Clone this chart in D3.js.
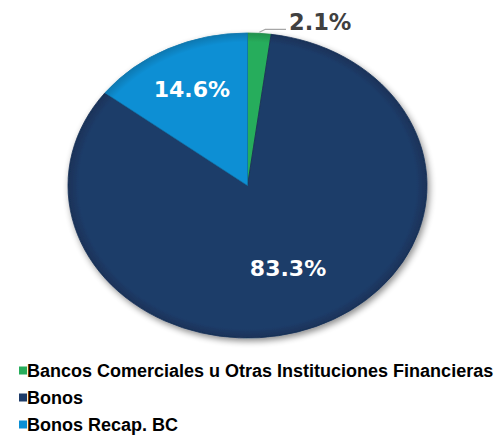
<!DOCTYPE html>
<html>
<head>
<meta charset="utf-8">
<script src="https://cdn.jsdelivr.net/npm/d3@7"></script>
<style>
  html, body { margin: 0; padding: 0; background: #fff; }
  svg { display: block; }
</style>
</head>
<body>
<svg id="chart" width="497" height="435"></svg>
<script>
// Composition of the portfolio (percent)
const categories = [
  "Bancos Comerciales u Otras Instituciones Financieras",
  "Bonos",
  "Bonos Recap. BC"
];
const values = [2.1, 83.3, 14.6];
const colors = ["#27ad5c", "#1e3c69", "#0b8fd4"];

const svg = d3.select("#chart");

// Pie geometry: drawn as a circle, then squashed vertically into an ellipse
const cx = 247.5, cy = 185.5, rx = 179.5, ry = 152.5;

const defs = svg.append("defs");
const shadow = defs.append("filter").attr("id", "shadow")
  .attr("x", "-20%").attr("y", "-20%").attr("width", "140%").attr("height", "140%");
shadow.append("feGaussianBlur").attr("in", "SourceAlpha").attr("stdDeviation", 3.5).attr("result", "b");
shadow.append("feOffset").attr("in", "b").attr("dx", 2).attr("dy", 4).attr("result", "o");
shadow.append("feComponentTransfer").attr("in", "o").attr("result", "s")
  .append("feFuncA").attr("type", "linear").attr("slope", 0.45);
const merge = shadow.append("feMerge");
merge.append("feMergeNode").attr("in", "s");
merge.append("feMergeNode").attr("in", "SourceGraphic");

// Soft bevel along the rim of each slice
colors.forEach((c, i) => {
  const g = defs.append("radialGradient").attr("id", "grad" + i)
    .attr("gradientUnits", "userSpaceOnUse")
    .attr("cx", 0).attr("cy", 0).attr("r", rx);
  g.append("stop").attr("offset", "0%").attr("stop-color", c);
  g.append("stop").attr("offset", "94%").attr("stop-color", c);
  g.append("stop").attr("offset", "100%").attr("stop-color", d3.color(c).darker(0.5));
});

const pie = d3.pie().sort(null).value(d => d)(values);
const arc = d3.arc().innerRadius(0).outerRadius(rx);

const pieG = svg.append("g")
  .attr("transform", `translate(${cx},${cy}) scale(1,${ry / rx})`);

pieG.append("g").attr("filter", "url(#shadow)")
  .selectAll("path").data(pie).join("path")
  .attr("d", arc)
  .attr("fill", (d, i) => `url(#grad${i})`)
  .attr("stroke", (d, i) => d3.color(colors[i]).darker(0.6))
  .attr("stroke-width", 0.8)
  .attr("vector-effect", "non-scaling-stroke");

// Map a point on the circle to the ellipse
const toXY = (angle, r) => [cx + r * Math.sin(angle), cy - r * (ry / rx) * Math.cos(angle)];

// Outside label for the small slice, with a leader line
const small = pie[0];
const mid = (small.startAngle + small.endAngle) / 2;
const p0 = toXY(mid, rx);
svg.append("polyline")
  .attr("points", [[p0[0], p0[1] - 1], [p0[0] + 6, p0[1] - 4], [286, p0[1] - 4]].map(p => p.join(",")).join(" "))
  .attr("fill", "none").attr("stroke", "#a6a6a6").attr("stroke-width", 1.2);
svg.append("text")
  .attr("x", 289).attr("y", 30)
  .attr("font-family", "'DejaVu Sans', Verdana, sans-serif")
  .attr("font-weight", "bold").attr("font-size", 22.5)
  .attr("fill", "#404040")
  .text(values[0].toFixed(1) + "%");

// Inside labels
const inside = [
  { i: 1, r: 0.59 },
  { i: 2, r: 0.70 }
];
inside.forEach(o => {
  const d = pie[o.i];
  const a = (d.startAngle + d.endAngle) / 2;
  const [x, y] = toXY(a, rx * o.r);
  svg.append("text")
    .attr("x", x).attr("y", y)
    .attr("text-anchor", "middle").attr("dominant-baseline", "central")
    .attr("font-family", "'DejaVu Sans', Verdana, sans-serif")
    .attr("font-weight", "bold").attr("font-size", 22)
    .attr("fill", "#ffffff")
    .text(values[o.i].toFixed(1) + "%");
});

// Legend
const legend = svg.append("g");
const rowY = d3.scalePoint().domain(categories).range([371, 425]);
const rows = legend.selectAll("g").data(categories).join("g")
  .attr("transform", d => `translate(0,${rowY(d)})`);
rows.append("rect")
  .attr("x", 19).attr("y", -4.5).attr("width", 8).attr("height", 8)
  .attr("fill", (d, i) => colors[i]);
rows.append("text")
  .attr("x", 27).attr("y", 0)
  .attr("dominant-baseline", "central")
  .attr("font-family", "'Liberation Sans', Arial, sans-serif")
  .attr("font-weight", "bold").attr("font-size", 18)
  .attr("fill", "#000")
  .text(d => d);
</script>
</body>
</html>
